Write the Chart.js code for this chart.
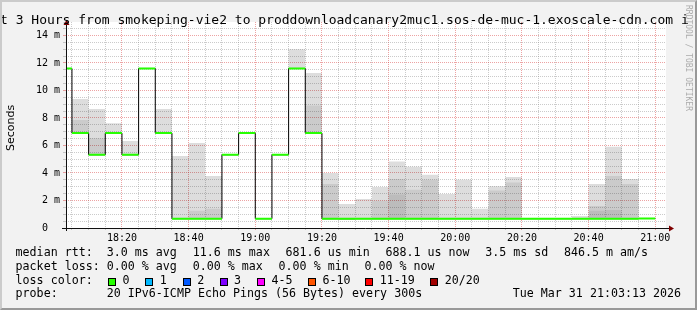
<!DOCTYPE html>
<html><head><meta charset="utf-8">
<script src="https://cdn.jsdelivr.net/npm/chart.js@4/dist/chart.umd.min.js"></script>
<style>
html,body{margin:0;padding:0;background:#fff;}
#wrap{position:relative;width:697px;height:310px;background:#f2f2f2;overflow:hidden;}
#c{position:absolute;left:0;top:0;}
.t{position:absolute;white-space:pre;font-family:"DejaVu Sans Mono",monospace;color:#000;line-height:1.1640625;}
.box{position:absolute;box-sizing:border-box;width:8px;height:8px;border:1px solid #000;}
#frame{position:absolute;left:0;top:0;width:697px;height:310px;box-sizing:border-box;border-style:solid;border-width:2px;border-color:#cbcbcb #999 #999 #cbcbcb;pointer-events:none;}
</style></head>
<body>
<div id="wrap">
<canvas id="c" width="697" height="310"></canvas>
<div id="overlay"></div>
<div id="frame"></div>
</div>
<script>
// ---- data ----
const windowStart = "18:03:13";
const windowEnd = "21:03:13";
const stepTimes = ["18:00","18:05","18:10","18:15","18:20","18:25","18:30","18:35","18:40","18:45","18:50","18:55",
  "19:00","19:05","19:10","19:15","19:20","19:25","19:30","19:35","19:40","19:45","19:50","19:55",
  "20:00","20:05","20:10","20:15","20:20","20:25","20:30","20:35","20:40","20:45","20:50","20:55"];
const endTime = "21:00";
// median RTT per 5-minute step, in ms
const medianRtt = [11.6,6.9,5.33,6.9,5.33,11.6,6.9,0.68,0.68,0.68,5.33,6.9,
  0.68,5.33,11.6,6.9,0.68,0.68,0.68,0.68,0.68,0.68,0.68,0.68,
  0.68,0.68,0.68,0.68,0.68,0.68,0.68,0.68,0.68,0.68,0.68,0.69];
// smoke: lowest ping and three grey layers (outer, middle, inner), in ms
const smokeMin = [11.6,6.9,5.33,6.9,5.33,11.6,6.9,0.68,0.68,0.68,5.33,6.9,
  0.68,5.33,11.6,6.9,0.63,0.6,0.68,0.68,0.68,0.68,0.68,0.68,
  0.68,0.68,0.68,0.68,0.68,0.68,0.68,0.68,0.68,0.68,0.68,0.69];
const smokeOuter = [11.6,9.38,8.65,7.61,6.33,11.6,8.65,5.24,6.18,3.78,5.33,6.9,
  0.68,5.33,13.0,11.27,4.0,1.75,2.1,2.98,4.83,4.46,3.88,2.47,
  3.51,1.4,3.03,3.71,0.68,0.68,0.68,0.87,3.2,5.9,3.56,0.69];
const smokeMid = [11.6,7.85,6.52,6.9,5.33,11.6,6.9,0.68,1.26,1.4,5.33,6.9,
  0.68,5.33,11.6,8.9,3.2,0.68,0.68,1.99,3.56,2.79,3.5,0.68,
  0.68,0.68,2.72,3.3,0.68,0.68,0.68,0.68,1.6,3.78,3.2,0.69];
const smokeInner = [11.6,6.9,5.33,6.9,5.33,11.6,6.9,0.68,0.68,0.68,5.33,6.9,
  0.68,5.33,11.6,6.9,0.68,0.68,0.68,0.68,2.43,0.68,0.68,0.68,
  0.68,0.68,0.68,0.68,0.68,0.68,0.68,0.68,1.26,1.31,0.68,0.69];
const xTickLabels = ["18:20","18:40","19:00","19:20","19:40","20:00","20:20","20:40","21:00"];
const yTickValues = [0,2,4,6,8,10,12,14];
const yTickLabels = ["0  "," 2 m"," 4 m"," 6 m"," 8 m","10 m","12 m","14 m"];
const yMax = 14.98;
const lossLabels = ["0","1","2","3","4-5","6-10","11-19","20/20"];
const lossColors = ["#26ff00","#00b8ff","#0059ff","#7e00ff","#ff00ff","#ff5500","#ff0000","#a10000"];
const titleText = "t 3 Hours from smokeping-vie2 to proddownloadcanary2muc1.sos-de-muc-1.exoscale-cdn.com i";
const statsRtt = ["median rtt:  3.0 ms avg","11.6 ms max","681.6 us min","688.1 us now","3.5 ms sd","846.5 m am/s"];
const statsLoss = ["packet loss: 0.00 % avg","0.00 % max","0.00 % min","0.00 % now"];
const probeText = "20 IPv6-ICMP Echo Pings (56 Bytes) every 300s";
const stampText = "Tue Mar 31 21:03:13 2026";

// ---- helpers ----
const toMin = s => { const p = s.split(':').map(Number); return (p[0]-18)*60 + p[1] + (p[2]||0)/60; };
const tStart = stepTimes.map(toMin);
const tEnd = toMin(endTime);
const xMin = toMin(windowStart), xMax = toMin(windowEnd);
const stepPts = arr => tStart.map((x,i)=>({x, y: arr[i]})).concat([{x: tEnd, y: arr[arr.length-1]}]);
const greenPts = [];
tStart.forEach((x,i)=>{
  const x2 = i+1 < tStart.length ? tStart[i+1] : tEnd;
  greenPts.push({x, y: medianRtt[i]}, {x: x2, y: medianRtt[i]}, {x: x2, y: null});
});
const xGrid = tStart.concat([tEnd]).filter(v => v > xMin && v < xMax);
const xLabelMap = {}; xTickLabels.forEach(l => { xLabelMap[toMin(l).toFixed(2)] = l; });
const yGrid = []; for (let v = 0; v < yMax; v += 0.5) yGrid.push(v);
const GRAY = 'rgba(140,140,140,0.45)';
const RED = 'rgba(215,50,50,0.45)';

const axesPlugin = {
  id: 'axesPlugin',
  beforeDraw(chart){
    const {ctx, chartArea:a} = chart;
    ctx.save(); ctx.fillStyle = '#fff';
    ctx.fillRect(a.left, a.top, a.right-a.left, a.bottom-a.top);
    ctx.restore();
  },
  afterDraw(chart){
    const {ctx, chartArea:a} = chart;
    const yb = Math.round(a.bottom)+0.5, xl = Math.round(a.left)+0.5;
    ctx.save();
    ctx.strokeStyle = '#101010'; ctx.lineWidth = 1;
    ctx.beginPath();
    ctx.moveTo(a.left-4, yb); ctx.lineTo(a.right+3, yb);
    ctx.moveTo(xl, a.bottom+3); ctx.lineTo(xl, a.top+3);
    ctx.stroke();
    ctx.fillStyle = '#7f0000';
    ctx.beginPath();
    ctx.moveTo(a.right+3, yb-3); ctx.lineTo(a.right+8, yb); ctx.lineTo(a.right+3, yb+3); ctx.closePath(); ctx.fill();
    ctx.beginPath();
    ctx.moveTo(xl-3, a.top+3); ctx.lineTo(xl, a.top-2); ctx.lineTo(xl+3, a.top+3); ctx.closePath(); ctx.fill();
    ctx.restore();
  }
};

const smokeBase = {stepped:'before', borderWidth:0, borderColor:'rgba(0,0,0,0)', pointRadius:0};
new Chart(document.getElementById('c'), {
  type: 'line',
  data: { datasets: [
    {label:'median (loss 0)', data: greenPts, borderColor:'#26ff00', borderWidth:2, pointRadius:0, spanGaps:false, fill:false, order:0, borderCapStyle:'butt'},
    {label:'median', data: stepPts(medianRtt), stepped:'before', borderColor:'#000', borderWidth:1, pointRadius:0, fill:false, order:1},
    Object.assign({label:'smoke min', data: stepPts(smokeMin), fill:false, order:10}, smokeBase),
    Object.assign({label:'smoke inner', data: stepPts(smokeInner), fill:2, backgroundColor:'rgba(0,0,0,0.07)', order:2}, smokeBase),
    Object.assign({label:'smoke mid', data: stepPts(smokeMid), fill:2, backgroundColor:'rgba(0,0,0,0.08)', order:3}, smokeBase),
    Object.assign({label:'smoke outer', data: stepPts(smokeOuter), fill:2, backgroundColor:'rgba(0,0,0,0.135)', order:4}, smokeBase)
  ]},
  options: {
    responsive:false, animation:false, devicePixelRatio:1,
    layout:{padding:{left:0, top:22, right:31, bottom:0}},
    plugins:{legend:{display:false}, tooltip:{enabled:false}, title:{display:false}},
    scales:{
      x:{type:'linear', position:'bottom', min:xMin, max:xMax, bounds:'data',
        afterBuildTicks: s => { s.ticks = xGrid.map(v => ({value:v})); },
        afterFit: s => { s.height = 82; },
        ticks:{autoSkip:false, maxRotation:0, minRotation:0, padding:2, color:'#000',
          font:{family:'DejaVu Sans Mono', size:10},
          callback: v => xLabelMap[Number(v).toFixed(2)] || ''},
        grid:{color: c => (c.tick && xLabelMap[c.tick.value.toFixed(2)]) ? RED : GRAY, lineWidth:1, tickLength:2, drawTicks:true},
        border:{display:false, dash:[1,1]}
      },
      y:{type:'linear', position:'left', min:0, max:yMax, bounds:'data',
        afterBuildTicks: s => { s.ticks = yGrid.map(v => ({value:v})); },
        afterFit: s => { s.width = 66; },
        ticks:{autoSkip:false, padding:3, color:'#000',
          font:{family:'DejaVu Sans Mono', size:10},
          callback: v => { const i = yTickValues.indexOf(Number(v)); return i >= 0 ? yTickLabels[i] : ''; }},
        grid:{color: c => (c.tick && yTickValues.indexOf(c.tick.value) >= 0) ? RED : GRAY, lineWidth:1, tickLength:3, drawTicks:true},
        border:{display:false, dash:[1,1]}
      }
    }
  },
  plugins:[axesPlugin]
});

// ---- text (real DOM text) ----
const ov = document.getElementById('overlay');
function addText(str, x, baseline, size, extra){
  const d = document.createElement('div');
  d.className = 't'; d.textContent = str;
  d.style.fontSize = size + 'px';
  d.style.left = x + 'px';
  d.style.top = (baseline - 0.928*size) + 'px';
  if (extra) Object.assign(d.style, extra);
  ov.appendChild(d); return d;
}
addText(titleText, 0, 24, 13);
const LG = 11.65;
const rows = [256.8, 270.6, 284.5, 298.3];
[15.6,192.8,285.6,385.4,485.2,564].forEach((x,i)=>addText(statsRtt[i], x, rows[0], LG));
[15.6,192.8,278.6,364.4].forEach((x,i)=>addText(statsLoss[i], x, rows[1], LG));
addText("loss color:", 15.6, rows[2], LG);
[108,145.3,182.7,219.6,256.9,308,365.3,430.2].forEach((x,i)=>{
  const b = document.createElement('div'); b.className='box';
  b.style.left = x+'px'; b.style.top = (rows[2]-7)+'px'; b.style.background = lossColors[i];
  ov.appendChild(b);
  addText(lossLabels[i], x+14.5, rows[2], LG);
});
addText("probe:", 15.6, rows[3], LG);
addText(probeText, 106.8, rows[3], LG);
const st = addText(stampText, 0, rows[3], LG);
st.style.left = (681 - st.getBoundingClientRect().width) + 'px';
// rotated axis title (integer anchor, rotated about its top-left corner)
const sec = document.createElement('div');
sec.textContent = 'Seconds';
Object.assign(sec.style, {position:'absolute', left:'5px', top:'151px', fontFamily:'"DejaVu Sans",sans-serif', fontSize:'11px', lineHeight:'11px', color:'#000', whiteSpace:'nowrap', transformOrigin:'0 0', transform:'rotate(-90deg)'});
ov.appendChild(sec);
// watermark
const wm = document.createElement('div');
wm.textContent = 'RRDTOOL / TOBI OETIKER';
Object.assign(wm.style, {position:'absolute', left:'692px', top:'5px', fontFamily:'"DejaVu Sans Mono",monospace', fontSize:'8px', lineHeight:'8px', color:'#acacac', whiteSpace:'nowrap', transformOrigin:'0 0', transform:'rotate(90deg)'});
ov.appendChild(wm);
</script>
</body></html>
